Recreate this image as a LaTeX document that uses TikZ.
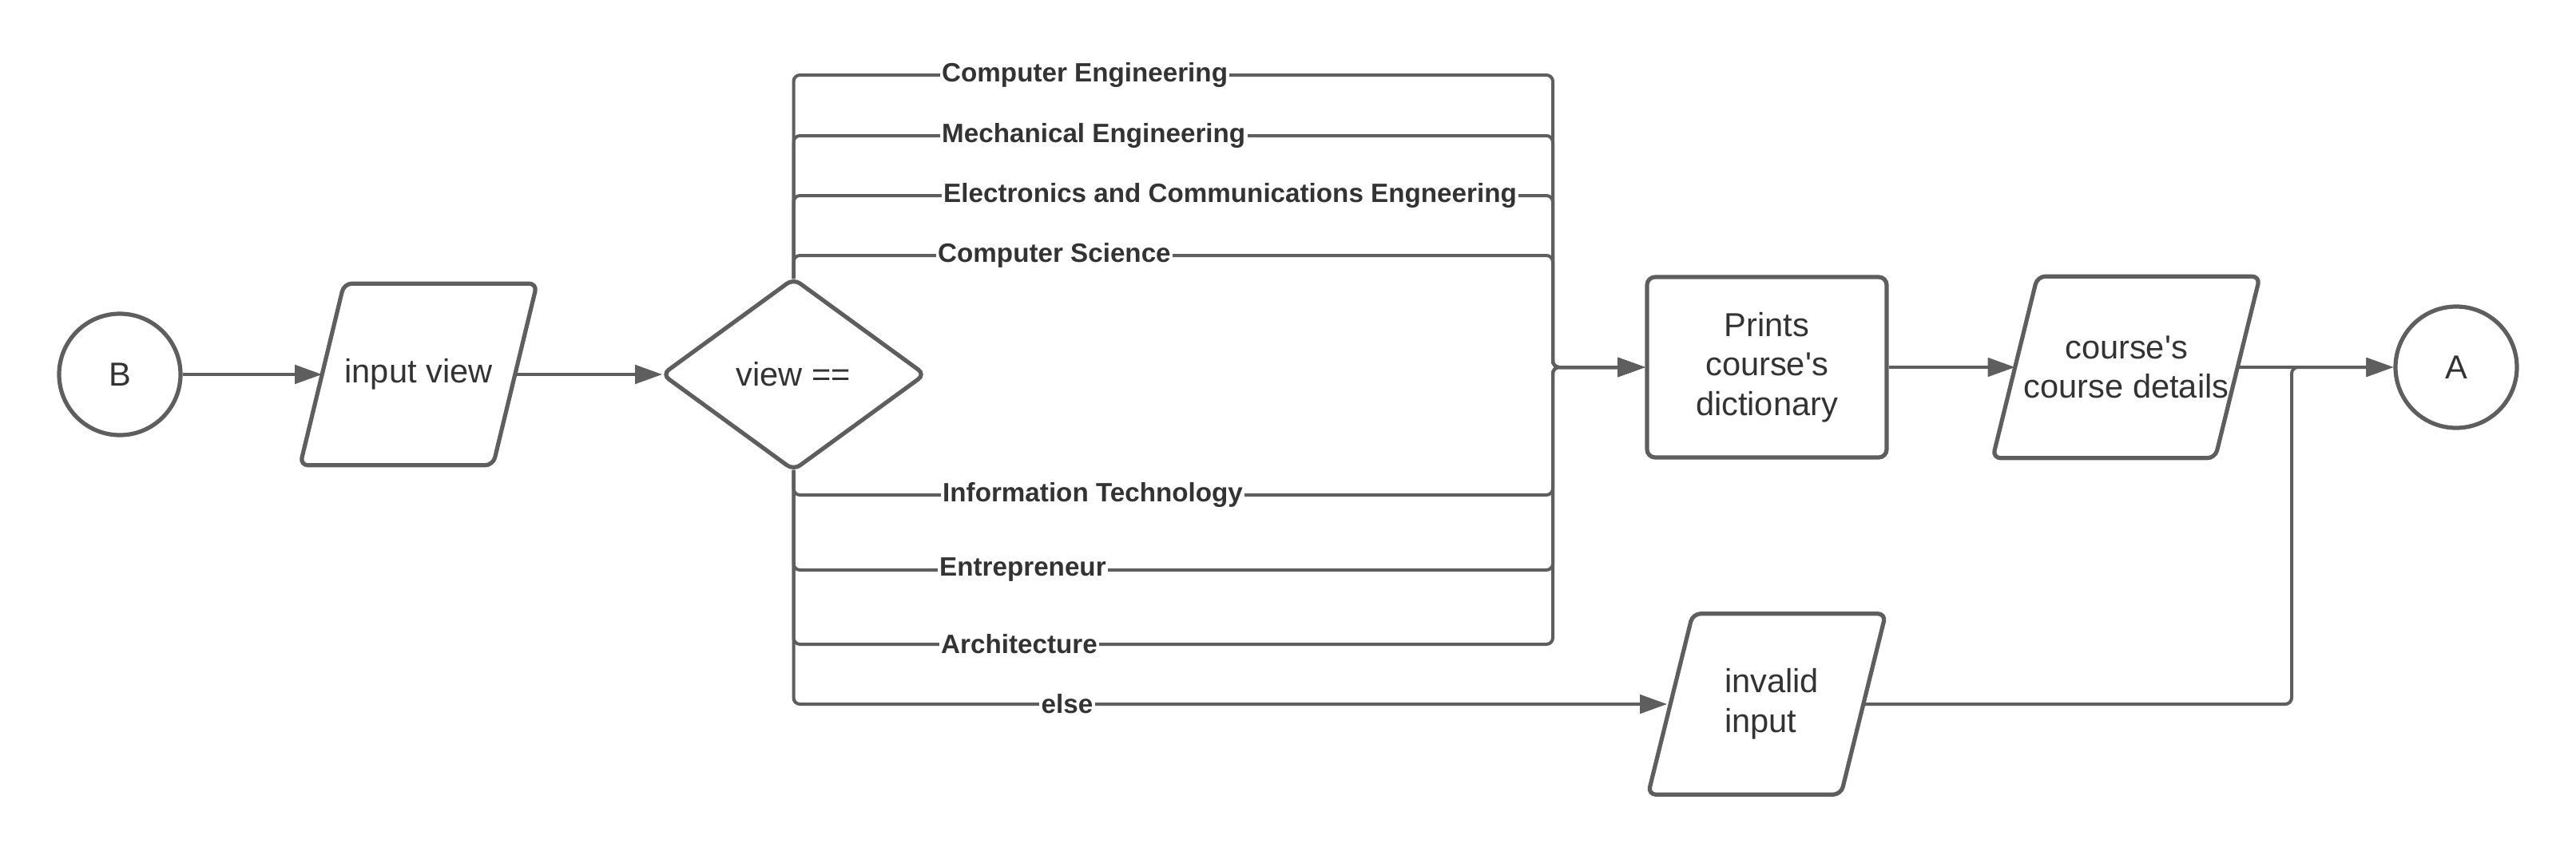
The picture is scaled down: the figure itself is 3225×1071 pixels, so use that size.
\documentclass[tikz,border=0pt]{standalone}
\usepackage{fontspec}
\setmainfont{Liberation Sans}
\usetikzlibrary{arrows.meta,calc}
\definecolor{lc}{HTML}{5E5E5E}
\definecolor{tc}{HTML}{333333}
\newcommand\drawpara[2]{\draw[shp] ($(#1.north west)+(#2,0)$) -- ($(#1.north east)+(#2,0)$) -- ($(#1.south east)+(-#2,0)$) -- ($(#1.south west)+(-#2,0)$) -- cycle;}
\begin{document}
\begin{tikzpicture}[x=0.25pt,y=-0.25pt,
  conn/.style={draw=lc, line width=1pt, rounded corners=2pt},
  arr/.style={conn, -{Triangle[length=8.5pt,width=5.8pt]}},
  shp/.style={draw=lc, line width=1.3pt, rounded corners=2.5pt},
  txt/.style={text=tc, font=\fontsize{10.4}{12.4}\selectfont, align=center, inner sep=0pt},
  circ/.style={txt, shp, circle, minimum size=38pt},
  lab/.style={text=tc, font=\fontsize{8.3}{10}\selectfont\bfseries, fill=white, inner xsep=0.6pt, inner ysep=1pt}
]
\fill[white] (0,0) rectangle (3225,1071);
\useasboundingbox (0,0) rectangle (3225,1071);

% shapes
\node[circ] (B) at (150,469) {B};
\node[txt, minimum width=60pt, minimum height=56.5pt] (iv) at (524,469) {input view};
\drawpara{iv}{27.5}
\node[txt, minimum width=81.75pt, minimum height=59.5pt] (d) at (993.5,469) {view ==};
\draw[shp] (d.north) -- (d.east) -- (d.south) -- (d.west) -- cycle;
\node[txt, shp, minimum width=75pt, minimum height=56.5pt] (p) at (2212,460) {Prints\\course\textquotesingle s\\dictionary};
\node[txt, minimum width=69.25pt, minimum height=56.5pt] (cd) at (2662,460) {course\textquotesingle s\\course details};
\drawpara{cd}{28}
\node[txt, align=left, minimum width=60pt, minimum height=56.25pt] (inv) at (2212,882) {\hspace*{3pt}invalid\\\hspace*{3pt}input};
\drawpara{inv}{28}
\node[circ] (A) at (3075,460) {A};

% waypoints
\coordinate (r1) at (1944,94);
\coordinate (r2) at (1944,170);
\coordinate (r3) at (1944,245);
\coordinate (r4) at (1944,320);
\coordinate (r5) at (1944,620);
\coordinate (r6) at (1944,714);
\coordinate (r7) at (1944,807);
\coordinate (j) at (2869,460);

% connectors
\draw[arr] (B) -- (iv);
\draw[arr] (iv) -- (d);
\draw[arr] (d.north) |- (r1) |- (p.west);
\draw[arr] (d.north) |- (r2) |- (p.west);
\draw[arr] (d.north) |- (r3) |- (p.west);
\draw[arr] (d.north) |- (r4) |- (p.west);
\draw[arr] (d.south) |- (r5) |- (p.west);
\draw[arr] (d.south) |- (r6) |- (p.west);
\draw[arr] (d.south) |- (r7) |- (p.west);
\draw[arr] (d.south) |- ([xshift=-1pt]inv.west);
\draw[arr] (p) -- (cd);
\draw[arr] (cd) -- (A);
\draw[arr] (inv.east) -| (j) -- (A.west);

% labels
\node[lab, anchor=west] (l1) at (1176,94) {Computer Engineering};
\node[lab, anchor=west] (l2) at (1176,170) {Mechanical Engineering};
\node[lab, anchor=west] (l3) at (1178,245) {Electronics and Communications Engneering};
\node[lab, anchor=west] (l4) at (1171,320) {Computer Science};
\node[lab, anchor=west] (l5) at (1177,620) {Information Technology};
\node[lab, anchor=west] (l6) at (1173,714) {Entrepreneur};
\node[lab, anchor=west] (l7) at (1175,807) {Architecture};
\node[lab] (l8) at (1336,882) {else};
\end{tikzpicture}
\end{document}
